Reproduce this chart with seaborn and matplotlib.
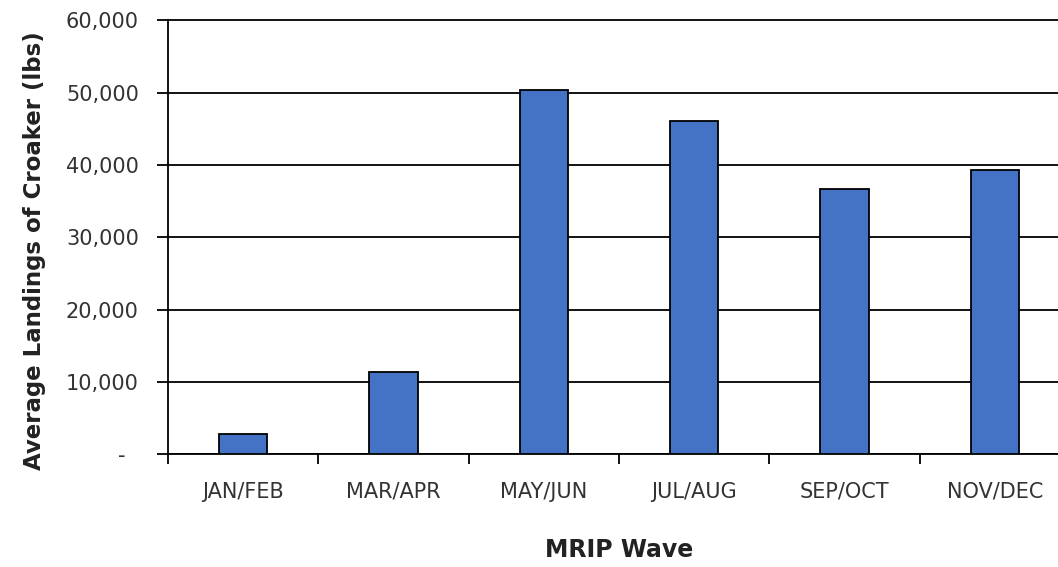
import matplotlib
matplotlib.use('Agg')
import matplotlib.pyplot as plt
import seaborn as sns
import pandas as pd
from matplotlib.ticker import FuncFormatter

waves = ['JAN/FEB', 'MAR/APR', 'MAY/JUN', 'JUL/AUG', 'SEP/OCT', 'NOV/DEC']
landings = [2800, 11300, 50400, 46100, 36700, 39300]

df = pd.DataFrame({'wave': waves, 'landings': landings})

sns.set_style('white')
plt.rcParams['font.family'] = ['DejaVu Sans']

fig = plt.figure(figsize=(10.58, 5.67), dpi=100)
ax = fig.add_axes([168 / 1058, 113 / 567, 902 / 1058, 433.5 / 567])

sns.barplot(data=df, x='wave', y='landings', color='#4472C4', width=0.32,
            edgecolor='black', linewidth=1.3, saturation=1, ax=ax, zorder=3)

ax.set_ylim(0, 60000)
ax.set_xlim(-0.5, len(waves) - 0.5)
ax.set_yticks(range(0, 60001, 10000))
ax.yaxis.set_major_formatter(FuncFormatter(lambda v, p: '-  ' if v == 0 else f'{int(v):,}'))
ax.grid(axis='y', color='black', linewidth=1.3, zorder=0)
ax.axhline(60000, color='black', linewidth=1.3, clip_on=False, zorder=1)
ax.set_axisbelow(True)

# category boundary ticks, labels on minor ticks at centres
ax.set_xticks([i - 0.5 for i in range(len(waves) + 1)])
ax.set_xticklabels([])
ax.set_xticks(range(len(waves)), minor=True)
ax.set_xticklabels(waves, minor=True)
ax.tick_params(axis='x', which='major', bottom=True, direction='out', length=7,
               width=1.3, color='black')
ax.tick_params(axis='x', which='minor', bottom=True, length=0, pad=20,
               labelsize=15, labelcolor='#333333')
ax.tick_params(axis='y', left=True, direction='out', length=8, width=1.3, color='black',
               labelsize=15, labelcolor='#333333', pad=13)

for s in ['top', 'right']:
    ax.spines[s].set_visible(False)
for s in ['left', 'bottom']:
    ax.spines[s].set_color('black')
    ax.spines[s].set_linewidth(1.3)

ax.set_xlabel('MRIP Wave', fontsize=17, fontweight='bold', color='#222222', labelpad=26)
ax.set_ylabel('Average Landings of Croaker (lbs)', fontsize=16.5, fontweight='bold',
              color='#222222', labelpad=14)
ax.yaxis.label.set_y(0.47)

fig.savefig('out.png', dpi=100)
